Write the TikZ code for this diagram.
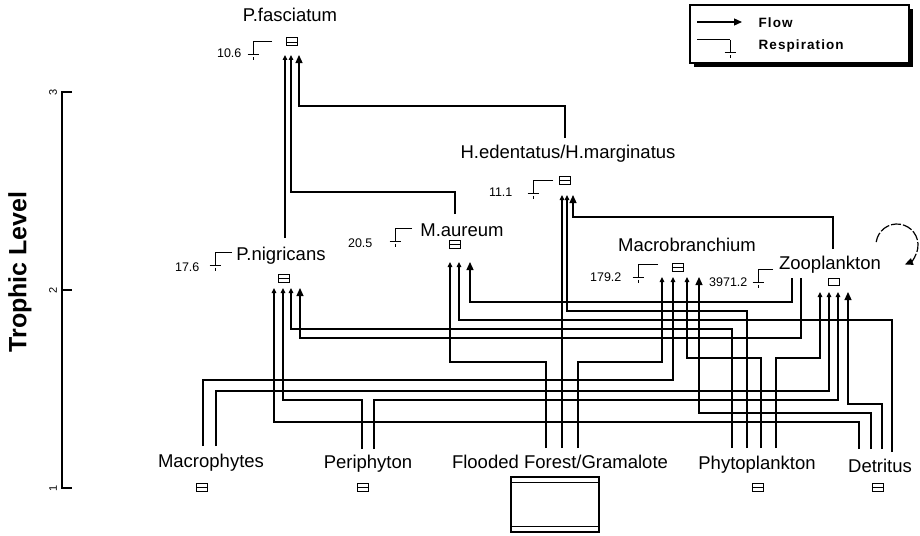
\documentclass[tikz,border=0pt]{standalone}
\usepackage{fontspec}
\setmainfont{Liberation Sans}
\newfontfamily\legfont[LetterSpace=8]{Liberation Sans}
\usetikzlibrary{arrows.meta}
\begin{document}
\begin{tikzpicture}[x=1pt,y=-1pt,line width=1.2pt,
  lab/.style={font=\fontsize{18.5}{20}\selectfont, inner sep=0pt, anchor=base},
  num/.style={font=\fontsize{12.5}{14}\selectfont, inner sep=0pt, anchor=base east},
  legtext/.style={anchor=base west, inner sep=0pt, font=\legfont\bfseries\fontsize{13.5}{15}\selectfont},
  pool/.style={draw, line width=1pt, minimum width=11pt, minimum height=8pt, inner sep=0pt,
    path picture={\draw[line width=1pt] ([yshift=-4.5pt]path picture bounding box.north west) -- ([yshift=-4.5pt]path picture bounding box.north east);}},
  zpool/.style={draw, line width=1pt, minimum width=11pt, minimum height=7pt, inner sep=0pt},
  flow/.style={-{Triangle[length=5pt,width=4.5pt]}},
  bigflow/.style={-{Triangle[length=8pt,width=7pt]}},
  ticklab/.style={rotate=90, font=\fontsize{11}{12}\selectfont, inner sep=0pt},
  pics/resp/.style={code={\draw[line width=1pt] (#1,0) -- (0,0) -- (0,13) (-5.5,13) -- (5.5,13) (0,15.5) -- (0,18.5);}},
]
\useasboundingbox (0,0) rectangle (920,535);

% axis
\draw (72,92) coordinate (t3) -- (62,92) -- (62,488) -- (72,488) coordinate (t1);
\draw (62,290) -- (72,290) coordinate (t2);
\node[ticklab] (l3) at (53,92) {3};
\node[ticklab] (l2) at (53,290) {2};
\node[ticklab] (l1) at (53,488) {1};
\node[rotate=90, font=\bfseries\fontsize{25}{27}\selectfont, inner sep=0pt] (title) at (20,272) {Trophic Level};

% legend
\fill (694,9) rectangle (913,67);
\draw[fill=white] (690,5) rectangle (909,63);
\coordinate (lf0) at (697,22); \coordinate (lf1) at (742,22);
\draw[-{Triangle[length=8pt,width=7pt]}] (lf0) -- (lf1);
\node[legtext] (lflow) at (758,28) {Flow};
\coordinate (lr0) at (697,40); \coordinate (lr1) at (730,40);
\draw[line width=1pt] (lr0) -- (lr1);
\pic at (lr1) {resp=0};
\node[legtext] (lresp) at (758,50) {Respiration};

% consumers
\node[lab] (pfas) at (290,21.6) {P.fasciatum};
\node[pool] (pfasb) at (292,42) {};
\node[lab] (hed) at (568,158.6) {H.edentatus/H.marginatus};
\node[pool] (hedb) at (565,180) {};
\node[lab] (maur) at (462,236.6) {M.aureum};
\node[pool] (maurb) at (455,244) {};
\node[lab] (pnig) at (281,260.6) {P.nigricans};
\node[pool] (pnigb) at (284,278) {};
\node[lab] (macb) at (687,251.6) {Macrobranchium};
\node[pool] (macbb) at (678,267) {};
\node[lab] (zoo) at (830,269.6) {Zooplankton};
\node[zpool] (zoob) at (834,282) {};

% producers / detritus
\node[lab] (mph) at (211,467) {Macrophytes};
\node[pool] (mphb) at (202,487) {};
\node[lab] (per) at (368,468) {Periphyton};
\node[pool] (perb) at (363,487) {};
\node[lab] (ff) at (560,468) {Flooded Forest/Gramalote};
\node[draw, minimum width=88pt, minimum height=55pt, inner sep=0pt] (ffb) at (555,504.5) {};
\draw ([yshift=-6pt]ffb.north west) -- ([yshift=-6pt]ffb.north east);
\draw ([yshift=6pt]ffb.south west) -- ([yshift=6pt]ffb.south east);
\node[lab] (phy) at (757,469) {Phytoplankton};
\node[pool] (phyb) at (758,487) {};
\node[lab] (det) at (880,472) {Detritus};
\node[pool] (detb) at (878,487) {};

% respiration
\pic at (253,42) {resp=19};  \node[num] (rpfas) at (242,57.5) {10.6};
\pic at (533,180) {resp=20}; \node[num] (rhed) at (513,196.5) {11.1};
\pic at (395,228) {resp=17}; \node[num] (rmaur) at (373,247.5) {20.5};
\pic at (215,252) {resp=17}; \node[num] (rpnig) at (200,271.5) {17.6};
\pic at (638,264) {resp=20}; \node[num] (rmacb) at (622,281.5) {179.2};
\pic at (758,269) {resp=15}; \node[num] (rzoo) at (748,286.5) {3971.2};

% ports
\coordinate (mph1) at (203,446); \coordinate (mph2) at (216,446);
\coordinate (per1) at (362,449); \coordinate (per2) at (374,449);
\coordinate (ff1) at (546,448); \coordinate (ff2) at (562,448); \coordinate (ff3) at (578,448);
\coordinate (phy1) at (732,448); \coordinate (phy2) at (747,448); \coordinate (phy3) at (761,448); \coordinate (phy4) at (776,448);
\coordinate (det1) at (859,449); \coordinate (det2) at (871,449); \coordinate (det3) at (882,449); \coordinate (det4) at (892,452);
\coordinate (zooT) at (833,249); \coordinate (zooD1) at (792,278); \coordinate (zooD2) at (801,278);
\coordinate (pnigT) at (285,238); \coordinate (maurT) at (455,214); \coordinate (hedT) at (565,138);
% targets
\coordinate (pfas1) at (285,55); \coordinate (pfas2) at (291,55); \coordinate (pfas3) at (299,55);
\coordinate (hed1) at (562,195); \coordinate (hed2) at (567,195); \coordinate (hed3) at (573,195);
\coordinate (maur1) at (450,262); \coordinate (maur2) at (459,262); \coordinate (maur3) at (470,262);
\coordinate (pnig1) at (274,288); \coordinate (pnig2) at (283,288); \coordinate (pnig3) at (291,288); \coordinate (pnig4) at (300,288);
\coordinate (macb1) at (662,277); \coordinate (macb2) at (673,277); \coordinate (macb3) at (687,277); \coordinate (macb4) at (699,277);
\coordinate (zoo1) at (820,292); \coordinate (zoo2) at (829,292); \coordinate (zoo3) at (838,292); \coordinate (zoo4) at (848,292);

% flows
\draw[flow] (pnigT) -- (pfas1);
\draw[flow] (maurT) |- (291,192) -- (pfas2);
\draw[bigflow] (hedT) |- (299,106) -- (pfas3);
\draw[flow] (ff2) -- (hed1);
\draw[flow] (phy2) |- (567,311) -- (hed2);
\draw[bigflow] (zooT) |- (573,217) -- (hed3);
\draw[flow] (ff1) |- (450,362) -- (maur1);
\draw[flow] (det4) |- (459,320) -- (maur2);
\draw[bigflow] (zooD1) |- (470,302) -- (maur3);
\draw[flow] (det1) |- (274,422) -- (pnig1);
\draw[flow] (per1) |- (283,400) -- (pnig2);
\draw[flow] (phy1) |- (291,329) -- (pnig3);
\draw[bigflow] (zooD2) |- (300,338) -- (pnig4);
\draw[flow] (ff3) |- (662,362) -- (macb1);
\draw[flow] (mph1) |- (673,380) -- (macb2);
\draw[flow] (phy3) |- (687,358) -- (macb3);
\draw[bigflow] (det2) |- (699,413) -- (macb4);
\draw[flow] (phy4) |- (820,358) -- (zoo1);
\draw[flow] (mph2) |- (829,391) -- (zoo2);
\draw[flow] (per2) |- (838,400) -- (zoo3);
\draw[bigflow] (det3) |- (848,404) -- (zoo4);

% self loop of zooplankton
\coordinate (lc) at (897,245);
\draw[dash pattern=on 10pt off 2pt, -{Triangle[length=8pt,width=7pt]}] (lc) ++(172:21pt) arc[start angle=172, end angle=-68, radius=21pt];
\end{tikzpicture}
\end{document}
